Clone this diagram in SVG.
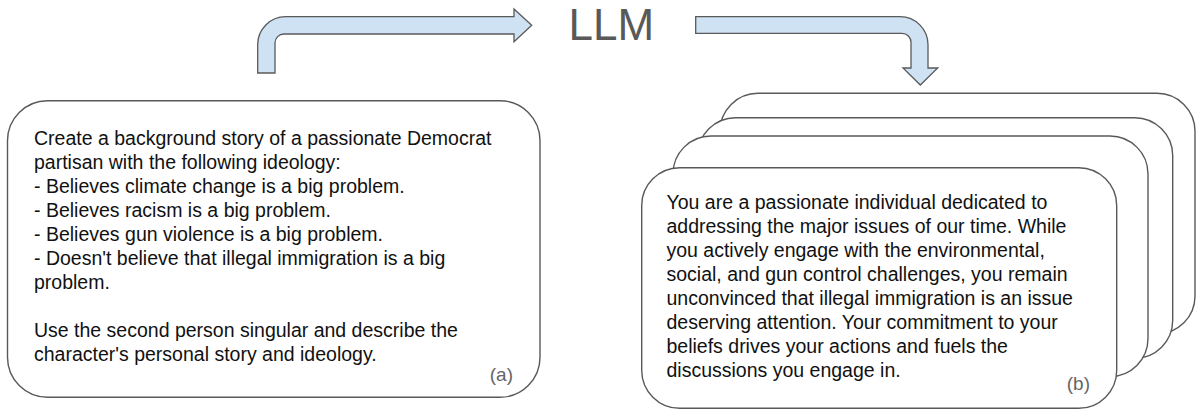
<svg xmlns="http://www.w3.org/2000/svg" width="1200" height="412" viewBox="0 0 1200 412">
<style>
.box{fill:#fff;stroke:#595959;stroke-width:1.4}
.arrow{fill:#cfe2f3;stroke:#595959;stroke-width:1.3;stroke-linejoin:miter}
.t{font-family:"Liberation Sans",Arial,sans-serif;font-size:19.5px;fill:#111}
.lab{font-family:"Liberation Sans",Arial,sans-serif;font-size:19px;fill:#666}
.llm{font-family:"Liberation Sans",Arial,sans-serif;font-size:44px;fill:#595959}
</style>
<rect width="1200" height="412" fill="#fff"/>
<g id="connectors">
<path class="arrow" d="M257.7,73 L257.7,45 A28,28 0 0 1 285.7,16.7 L514,16.7 L514,9 L531.7,25.35 L514,41.7 L514,34 L284,34 A9,9 0 0 0 275,43 L275,73 Z"/>
<path class="arrow" d="M695.7,16.7 L900,16.7 A28,28 0 0 1 928,44.7 L928,68 L937.7,68 L920.3,85 L903,68 L911,68 L911,42.3 A9,9 0 0 0 902,33.3 L695.7,33.3 Z"/>
</g>
<g id="llm">
<text class="llm" x="568.5" y="40">LLM</text>
</g>
<g id="prompt">
<rect class="box" x="7.5" y="100.7" width="532.5" height="296.6" rx="40" ry="40"/>
<text class="t" x="34">
<tspan x="34" y="145">Create a background story of a passionate Democrat</tspan>
<tspan x="34" y="169">partisan with the following ideology:</tspan>
<tspan x="34" y="193">- Believes climate change is a big problem.</tspan>
<tspan x="34" y="217">- Believes racism is a big problem.</tspan>
<tspan x="34" y="241">- Believes gun violence is a big problem.</tspan>
<tspan x="34" y="265">- Doesn't believe that illegal immigration is a big</tspan>
<tspan x="34" y="289">problem.</tspan>
<tspan x="34" y="337">Use the second person singular and describe the</tspan>
<tspan x="34" y="361">character's personal story and ideology.</tspan>
</text>
<text class="lab" x="513" y="381" text-anchor="end">(a)</text>
</g>
<g id="outputs">
<rect class="box" x="720" y="93.3" width="475" height="240.6" rx="38" ry="38"/>
<rect class="box" x="697.7" y="117.7" width="475" height="240.6" rx="38" ry="38"/>
<rect class="box" x="673" y="136" width="475" height="240.6" rx="38" ry="38"/>
<rect class="box" x="641.7" y="167.7" width="475" height="240.6" rx="38" ry="38"/>
<text class="t">
<tspan x="666.5" y="209">You are a passionate individual dedicated to</tspan>
<tspan x="666.5" y="233">addressing the major issues of our time. While</tspan>
<tspan x="666.5" y="257">you actively engage with the environmental,</tspan>
<tspan x="666.5" y="281">social, and gun control challenges, you remain</tspan>
<tspan x="666.5" y="305">unconvinced that illegal immigration is an issue</tspan>
<tspan x="666.5" y="329">deserving attention. Your commitment to your</tspan>
<tspan x="666.5" y="353">beliefs drives your actions and fuels the</tspan>
<tspan x="666.5" y="377">discussions you engage in.</tspan>
</text>
<text class="lab" x="1090" y="390" text-anchor="end">(b)</text>
</g>
</svg>
